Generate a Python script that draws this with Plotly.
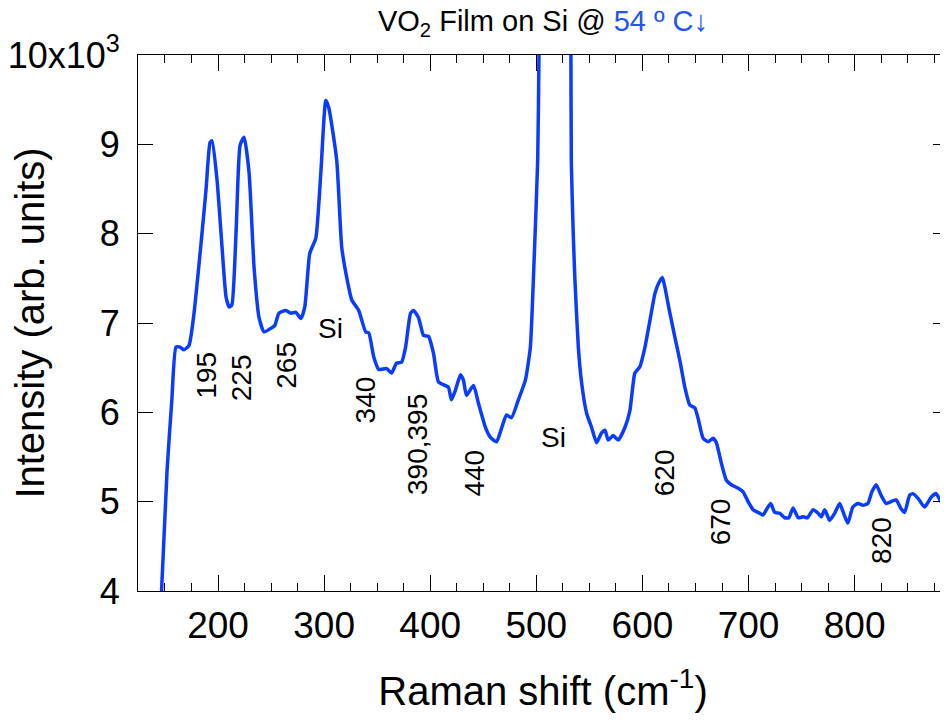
import plotly.graph_objects as go

# Raman shift (cm^-1)
wavenumber = [
    146.0, 152.0, 156.5, 160.4, 164.2, 168.0, 172.7, 177.4, 184.0, 188.7,
    192.5, 194.4, 199.1, 203.8, 207.6, 210.5, 213.0, 217.1, 220.8, 224.6,
    229.3, 234.0, 238.7, 243.4, 251.0, 253.5, 257.4, 264.0, 268.7, 273.4,
    278.1, 281.8, 286.5, 292.2, 296.9, 301.6, 304.4, 311.9, 316.6, 321.3,
    326.0, 332.6, 339.2, 342.1, 346.8, 351.5, 358.9, 363.6, 368.3, 373.0,
    376.8, 381.5, 384.3, 389.0, 393.7, 398.4, 403.1, 407.8, 414.4, 417.2,
    420.0, 423.8, 428.5, 431.3, 434.2, 440.8, 445.5, 452.1, 456.8, 462.5,
    467.2, 471.9, 476.6, 483.1, 489.7, 494.4, 497.2, 501.3, 502.5, 506.0,
    511.0, 517.0, 523.0, 528.5, 532.6, 533.0, 534.8, 536.4, 539.6, 542.7,
    547.4, 552.1, 556.8, 561.5, 564.7, 567.8, 572.5, 577.2, 583.5, 588.2,
    592.9, 597.6, 602.4, 607.1, 611.8, 615.5, 618.8, 621.2, 625.9, 630.6,
    635.3, 640.0, 644.7, 649.4, 652.5, 657.2, 661.9, 666.6, 669.7, 674.4,
    679.1, 683.8, 690.2, 694.9, 699.6, 704.3, 709.0, 713.7, 716.8, 720.9,
    724.7, 729.4, 734.1, 738.0, 742.0, 746.8, 751.5, 755.5, 760.9, 765.6,
    768.6, 771.8, 776.5, 781.2, 785.9, 789.6, 793.6, 798.3, 803.1, 807.8,
    812.5, 816.3, 820.3, 825.0, 829.7, 834.4, 839.1, 843.3, 847.1, 851.8,
    854.9, 859.6, 865.9, 872.1, 876.8, 881.5, 887.0,
]

# Intensity (arb. units)
intensity = [
    3800, 5350, 6140, 6730, 6730, 6700, 6750, 7110, 7890, 8490,
    9020, 9040, 8600, 7850, 7290, 7180, 7200, 8040, 8990, 9080,
    8680, 7620, 7060, 6900, 6950, 6970, 7110, 7140, 7110, 7120,
    7050, 7180, 7780, 7950, 8680, 9490, 9410, 8820, 7850, 7510,
    7260, 7140, 6900, 6890, 6620, 6480, 6490, 6440, 6550, 6560,
    6730, 7110, 7140, 7060, 6860, 6850, 6660, 6340, 6300, 6280,
    6140, 6250, 6420, 6360, 6190, 6300, 6100, 5830, 5720, 5670,
    5820, 5970, 5940, 6140, 6360, 6730, 7480, 8820, 10000, 15000,
    22000, 26000, 22000, 15000, 10000, 8800, 8000, 7480, 6730, 6330,
    5990, 5830, 5660, 5770, 5800, 5690, 5740, 5690, 5830, 6020,
    6440, 6510, 6730, 7030, 7330, 7450, 7510, 7400, 7110, 6840,
    6580, 6280, 6080, 6050, 5930, 5710, 5670, 5710, 5660, 5430,
    5240, 5190, 5150, 5110, 5000, 4910, 4880, 4850, 4910, 4980,
    4880, 4870, 4820, 4820, 4930, 4820, 4830, 4820, 4910, 4870,
    4830, 4910, 4790, 4870, 4980, 4870, 4760, 4940, 4980, 4960,
    4980, 5110, 5190, 5070, 4980, 5000, 5020, 4930, 4880, 5070,
    5090, 5040, 4940, 5050, 5090, 5000, 4980,
]

# Peak annotations
label_text = ["195", "225", "265", "Si", "340", "390,395", "440", "Si", "620", "670", "820"]
label_x = [189.5, 222.4, 264.8, 306.2, 339.1, 388.0, 441.7, 516.0, 620.5, 673.2, 824.7]
label_y = [6420, 6390, 6530, 6940, 6140, 5640, 5320, 5720, 5320, 4770, 4570]
label_angle = [-90, -90, -90, 0, -90, -90, -90, 0, -90, -90, -90]

# Axis ticks
y_tickvals = [4000, 5000, 6000, 7000, 8000, 9000, 10000]
y_ticktext = ["4", "5", "6", "7", "8", "9", "10x10<sup>3</sup>"]
x_tickvals = [200, 300, 400, 500, 600, 700, 800]

FONT = "Liberation Sans, Arial, Helvetica, sans-serif"
LINE_BLUE = "#0a3cff"
TEXT_BLUE = "#2255f0"

W, H = 940, 715  # page body adds an 8px offset

fig = go.Figure()
fig.add_trace(go.Scatter(
    x=wavenumber, y=intensity, mode="lines",
    line=dict(color=LINE_BLUE, width=3.5, shape="spline", smoothing=0.5),
    showlegend=False, hoverinfo="skip",
))

for t, xv, yv, a in zip(label_text, label_x, label_y, label_angle):
    fig.add_annotation(x=xv, y=yv, text=t, textangle=a, showarrow=False,
                       font=dict(family=FONT, size=28, color="black"),
                       xanchor="center", yanchor="middle")

fig.update_layout(
    width=W, height=H,
    margin=dict(l=130, r=0, t=47, b=132, autoexpand=False),
    paper_bgcolor="white", plot_bgcolor="white",
    font=dict(family=FONT, color="black"),
    title=dict(
        text="VO<sub>2</sub> Film on Si @ <span style='color:%s'>54 º C↓</span>" % TEXT_BLUE,
        x=0.5, xref="paper", xanchor="center",
        y=1 - 13 / H, yref="container", yanchor="middle",
        font=dict(family=FONT, size=29, color="black"),
        automargin=False,
    ),
    xaxis=dict(
        range=[124.6, 888], showgrid=False, zeroline=False, automargin=False,
        showline=True, linecolor="black", linewidth=1, mirror="ticks",
        ticks="inside", ticklen=16, tickwidth=1, tickcolor="black",
        tickvals=x_tickvals,
        minor=dict(ticks="inside", ticklen=8, tickwidth=1, tickcolor="black", dtick=25, tick0=0),
        tickfont=dict(family=FONT, size=37),
        ticklabelstandoff=2,
        title=dict(text="Raman shift (cm<sup>-1</sup>)", font=dict(family=FONT, size=40), standoff=31),
    ),
    yaxis=dict(
        range=[4000, 10000], showgrid=False, zeroline=False, automargin=False,
        showline=True, linecolor="black", linewidth=1, mirror="ticks",
        ticks="inside", ticklen=15, tickwidth=1, tickcolor="black",
        tickvals=y_tickvals, ticktext=y_ticktext,
        tickfont=dict(family=FONT, size=36),
        ticklabelstandoff=10,
        title=dict(text="Intensity (arb. units)", font=dict(family=FONT, size=40), standoff=5),
    ),
)

fig.write_html("out.html")
